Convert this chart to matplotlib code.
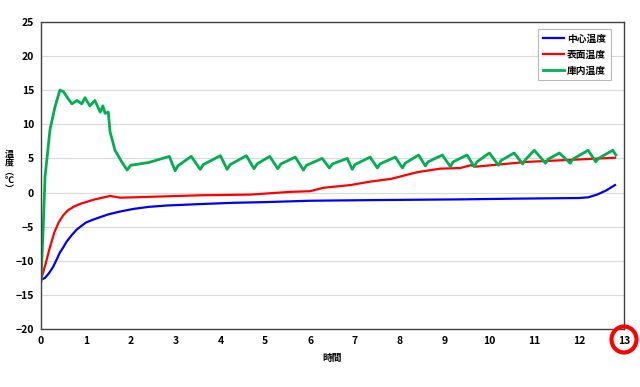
import numpy as np
import matplotlib
matplotlib.use("Agg")
import matplotlib.pyplot as plt
from matplotlib.patches import Ellipse

plt.rcParams['font.family'] = ['Noto Sans CJK JP', 'DejaVu Sans']

# ---- data (time [h], temperature [°C]) ----
center_t = [0.0, 0.09, 0.18, 0.27, 0.35, 0.42, 0.5, 0.57, 0.69, 0.8, 0.9, 1.0, 1.15,
            1.32, 1.5, 1.75, 2.06, 2.4, 2.8, 3.5, 4.3, 5.0, 6.0, 7.5, 9.35, 10.5,
            12.0, 12.2, 12.4, 12.6, 12.8]
center_v = [-12.8, -12.5, -11.8, -10.9, -9.8, -8.8, -8.0, -7.2, -6.2, -5.4, -4.9, -4.4, -4.0,
            -3.6, -3.2, -2.8, -2.4, -2.1, -1.9, -1.7, -1.5, -1.4, -1.2, -1.1, -1.0, -0.9,
            -0.8, -0.7, -0.3, 0.3, 1.1]

surface_t = [0.0, 0.1, 0.2, 0.3, 0.4, 0.5, 0.6, 0.75, 0.9, 1.2, 1.54, 1.76, 2.06, 3.55,
             4.67, 5.56, 6.0, 6.3, 6.9, 7.34, 7.8, 8.4, 8.9, 9.35, 9.58, 9.7,
             10.85, 12.8]
surface_v = [-12.8, -10.5, -8.0, -5.8, -4.3, -3.3, -2.6, -2.0, -1.6, -1.0, -0.5, -0.75, -0.7, -0.4,
             -0.3, 0.1, 0.2, 0.7, 1.1, 1.6, 2.0, 3.0, 3.5, 3.6, 4.0, 3.8,
             4.5, 5.1]

store_t = [0.0, 0.05, 0.09, 0.2, 0.31, 0.42, 0.5, 0.6, 0.69, 0.8, 0.91, 0.98, 1.09,
           1.2, 1.32, 1.38, 1.43, 1.5, 1.54, 1.65, 1.8, 1.92, 2.0, 2.4,
           2.86, 2.99, 3.05, 3.35, 3.55, 3.62, 4.0, 4.15, 4.22, 4.58, 4.75, 4.82,
           5.1, 5.28, 5.35, 5.67, 5.85, 5.92, 6.27, 6.43, 6.5, 6.83, 6.94, 7.0,
           7.34, 7.5, 7.56, 7.9, 8.06, 8.12, 8.42, 8.57, 8.63, 8.95, 9.13, 9.19,
           9.5, 9.66, 9.72, 10.0, 10.2, 10.26, 10.55, 10.74, 10.8, 11.0, 11.25,
           11.31, 11.56, 11.8, 11.86, 12.2, 12.37, 12.43, 12.75, 12.82]
store_v = [-13.0, -5.0, 2.3, 9.2, 12.5, 15.0, 14.8, 13.8, 13.0, 13.5, 13.0, 13.9, 12.7,
           13.5, 11.8, 12.7, 11.6, 11.8, 8.9, 6.2, 4.5, 3.3, 4.0, 4.4,
           5.3, 3.2, 3.9, 5.3, 3.4, 4.1, 5.4, 3.4, 4.1, 5.4, 3.5, 4.2,
           5.3, 3.5, 4.2, 5.2, 3.3, 4.0, 5.0, 3.6, 4.2, 5.0, 3.4, 4.1,
           5.2, 3.6, 4.2, 5.2, 3.6, 4.3, 5.5, 3.9, 4.5, 5.5, 3.8, 4.5,
           5.5, 3.8, 4.5, 5.8, 4.0, 4.7, 5.8, 4.2, 4.8, 6.2, 4.3,
           4.9, 5.8, 4.3, 4.9, 6.2, 4.5, 5.0, 6.2, 5.5]

labels = ["中心温度", "表面温度", "庫内温度"]
colors = ["#0000ff", "#ff0000", "#00b050"]
ylabel_text = "温\n度\n︵\n℃\n︶"

fig = plt.figure(figsize=(6.4, 3.87), dpi=100)
ax = fig.add_axes([41 / 640, 1 - 329 / 387, (624 - 41) / 640, (329 - 22) / 387])

ax.plot(center_t, center_v, color=colors[0], lw=1.6, label=labels[0])
ax.plot(surface_t, surface_v, color=colors[1], lw=1.6, label=labels[1])
ax.plot(store_t, store_v, color=colors[2], lw=2.0, label=labels[2])

ax.set_xlim(0, 13)
ax.set_ylim(-20, 25)
ax.set_xticks(range(0, 14))
ax.set_yticks(range(-20, 26, 5))
ax.yaxis.grid(True, color="#d9d9d9", lw=0.8)
ax.set_axisbelow(True)
ax.tick_params(length=0, labelsize=7.5, pad=5)
for lab in ax.get_xticklabels() + ax.get_yticklabels():
    lab.set_fontweight("bold")
for sp in ax.spines.values():
    sp.set_color("#404040")
    sp.set_linewidth(1.0)

ax.set_xlabel("時間", fontsize=7, fontweight="bold", labelpad=5)
# stacked (vertical writing) y label
fig.text(9 / 640, 1 - 172 / 387, ylabel_text, fontsize=6.5, fontweight="bold",
         ha="center", va="center", linespacing=0.95)

leg = ax.legend(loc="upper right", bbox_to_anchor=(611 / 640, 1 - 29 / 387),
                bbox_transform=fig.transFigure, fontsize=7, frameon=True,
                fancybox=False, handlelength=2.2, handletextpad=0.3,
                borderpad=0.5, labelspacing=0.6, borderaxespad=0)
leg.get_frame().set_edgecolor("#a6a6a6")
leg.get_frame().set_linewidth(0.8)
for t in leg.get_texts():
    t.set_fontweight("bold")

# red circle around the last tick label
fig.add_artist(Ellipse((624 / 640, 1 - 339.5 / 387), width=25 / 640, height=26 / 387,
                       transform=fig.transFigure, fill=False, color="#ff0000", lw=3.0))

fig.savefig("out.png", dpi=100)
